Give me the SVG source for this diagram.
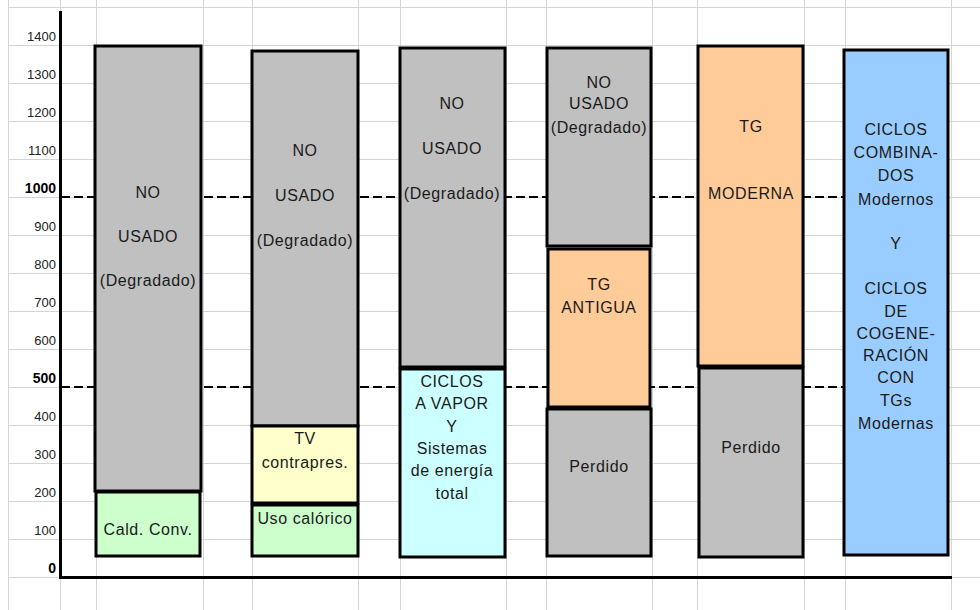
<svg xmlns="http://www.w3.org/2000/svg" width="980" height="610" viewBox="0 0 980 610">
<style>
.grid{stroke:#d4d4d4;stroke-width:1;fill:none}
.seg{stroke:#000;stroke-width:3}
.gray{fill:#c0c0c0}.green{fill:#ccffcc}.yellow{fill:#ffffcc}.cyan{fill:#ccffff}.orange{fill:#ffcc99}.blue{fill:#99ccff}
.t{font-family:"Liberation Sans",Arial,sans-serif;font-size:16px;fill:#1a1a1a;text-anchor:middle;letter-spacing:0.6px}
.ax{font-family:"Liberation Sans",Arial,sans-serif;font-size:13px;fill:#222;text-anchor:end}
.axb{font-weight:bold;font-size:14px;fill:#000}
.dash{stroke:#000;stroke-width:2;stroke-dasharray:9 4;fill:none}
</style>
<rect width="980" height="610" fill="#fff"/>
<g id="grid" class="grid">
<path d="M8.5 0V610M60.5 0V610M96.5 0V610M203.5 0V610M252.5 0V610M358.5 0V610M400.5 0V610M506.5 0V610M546.5 0V610M652.5 0V610M697.5 0V610M804.5 0V610M845.5 0V610M951.5 0V610"/>
<path d="M8 7.5H980M8 45.5H980M8 83.5H980M8 121.5H980M8 159.5H980M8 197.5H980M8 235.5H980M8 273.5H980M8 311.5H980M8 349.5H980M8 387.5H980M8 425.5H980M8 463.5H980M8 501.5H980M8 539.5H980M8 577.5H980"/>
</g>
<g id="axis-labels" class="ax">
<text x="56" y="41">1400</text>
<text x="56" y="79">1300</text>
<text x="56" y="117">1200</text>
<text x="56" y="155">1100</text>
<text x="56" y="193" class="axb">1000</text>
<text x="56" y="231">900</text>
<text x="56" y="269">800</text>
<text x="56" y="307">700</text>
<text x="56" y="345">600</text>
<text x="56" y="383" class="axb">500</text>
<text x="56" y="421">400</text>
<text x="56" y="459">300</text>
<text x="56" y="497">200</text>
<text x="56" y="535">100</text>
<text x="56" y="573" class="axb">0</text>
</g>
<g id="connectors">
<line class="dash" x1="61" y1="197" x2="946" y2="197"/>
<line class="dash" x1="61" y1="387" x2="946" y2="387"/>
</g>
<g id="axes" stroke="#000" stroke-width="3">
<line x1="60.5" y1="11" x2="60.5" y2="579"/>
<line x1="59" y1="577.5" x2="952" y2="577.5"/>
</g>
<g id="bar1">
<rect class="seg gray" x="95" y="46" width="106" height="445"/>
<rect class="seg green" x="96" y="492" width="104" height="64"/>
<text class="t" x="148" y="198">NO</text>
<text class="t" x="148" y="242">USADO</text>
<text class="t" x="148" y="286">(Degradado)</text>
<text class="t" x="148" y="535">Cald. Conv.</text>
</g>
<g id="bar2">
<rect class="seg gray" x="252" y="51" width="106" height="375"/>
<rect class="seg yellow" x="252" y="426" width="106" height="77"/>
<rect class="seg green" x="252" y="505" width="106" height="51"/>
<text class="t" x="305" y="156">NO</text>
<text class="t" x="305" y="201">USADO</text>
<text class="t" x="305" y="246">(Degradado)</text>
<text class="t" x="305" y="444">TV</text>
<text class="t" x="305" y="468">contrapres.</text>
<text class="t" x="305" y="524">Uso calórico</text>
</g>
<g id="bar3">
<rect class="seg gray" x="400" y="48" width="105" height="319"/>
<rect class="seg cyan" x="400" y="369" width="105" height="188"/>
<text class="t" x="452" y="109">NO</text>
<text class="t" x="452" y="154">USADO</text>
<text class="t" x="452" y="199">(Degradado)</text>
<text class="t" x="452" y="387">CICLOS</text>
<text class="t" x="452" y="409">A VAPOR</text>
<text class="t" x="452" y="432">Y</text>
<text class="t" x="452" y="454">Sistemas</text>
<text class="t" x="452" y="476">de energía</text>
<text class="t" x="452" y="499">total</text>
</g>
<g id="bar4">
<rect class="seg gray" x="547" y="48" width="104" height="198"/>
<rect class="seg orange" x="548" y="249" width="102" height="158"/>
<rect class="seg gray" x="547" y="409" width="104" height="147"/>
<text class="t" x="599" y="88">NO</text>
<text class="t" x="599" y="109">USADO</text>
<text class="t" x="599" y="133">(Degradado)</text>
<text class="t" x="599" y="290">TG</text>
<text class="t" x="599" y="313">ANTIGUA</text>
<text class="t" x="599" y="472">Perdido</text>
</g>
<g id="bar5">
<rect class="seg orange" x="698" y="46" width="105" height="320"/>
<rect class="seg gray" x="699" y="368" width="104" height="189"/>
<text class="t" x="751" y="132">TG</text>
<text class="t" x="751" y="199">MODERNA</text>
<text class="t" x="751" y="453">Perdido</text>
</g>
<g id="bar6">
<rect class="seg blue" x="844" y="50" width="104" height="505"/>
<text class="t" x="896" y="135">CICLOS</text>
<text class="t" x="896" y="158">COMBINA-</text>
<text class="t" x="896" y="181">DOS</text>
<text class="t" x="896" y="205">Modernos</text>
<text class="t" x="896" y="249">Y</text>
<text class="t" x="896" y="294">CICLOS</text>
<text class="t" x="896" y="317">DE</text>
<text class="t" x="896" y="339">COGENE-</text>
<text class="t" x="896" y="361">RACIÓN</text>
<text class="t" x="896" y="383">CON</text>
<text class="t" x="896" y="406">TGs</text>
<text class="t" x="896" y="429">Modernas</text>
</g>
</svg>
